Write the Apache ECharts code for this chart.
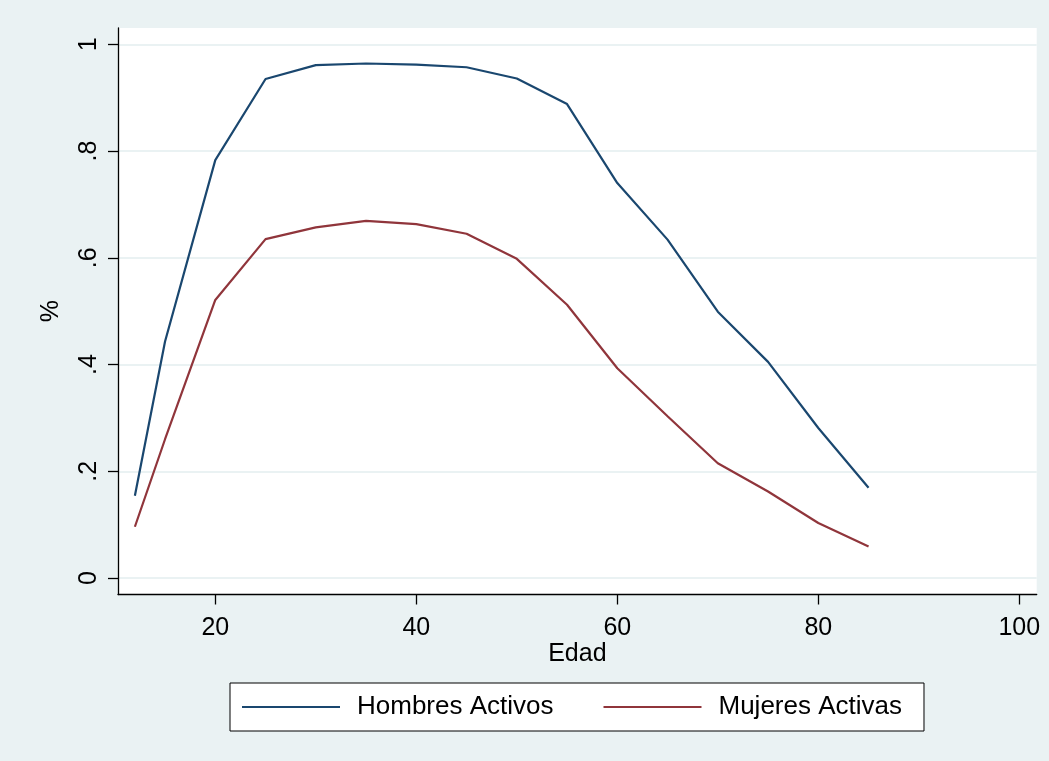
<!DOCTYPE html>
<html>
<head>
<meta charset="utf-8">
<title>Tasa de actividad por edad</title>
<script src="https://cdn.jsdelivr.net/npm/echarts@6/dist/echarts.min.js"></script>
<style>
  html, body { margin: 0; padding: 0; background: #EAF2F3; }
  #chart { width: 1049px; height: 761px; }
</style>
</head>
<body>
<div id="chart"></div>
<script>
// Edad (años) y tasa de actividad por sexo
const edades = [12, 15, 20, 25, 30, 35, 40, 45, 50, 55, 60, 65, 70, 75, 80, 85];
const hombresActivos = [0.154, 0.443, 0.783, 0.935, 0.961, 0.964, 0.962, 0.957, 0.936, 0.888, 0.740, 0.634, 0.499, 0.405, 0.281, 0.169];
const mujeresActivas = [0.096, 0.260, 0.521, 0.635, 0.657, 0.669, 0.663, 0.645, 0.598, 0.512, 0.393, 0.303, 0.215, 0.162, 0.103, 0.059];
const xTicks = [20, 40, 60, 80, 100];
const yTickLabels = { 0: '0', 0.2: '.2', 0.4: '.4', 0.6: '.6', 0.8: '.8', 1: '1' };

const FONT = 'Liberation Sans, Arial, Helvetica, sans-serif';
const BG = '#EAF2F3';
const AXIS = { color: '#000', width: 1.3 };

const pairs = (xs, ys) => xs.map((x, i) => [x, ys[i]]);

const chart = echarts.init(document.getElementById('chart'), null, { renderer: 'canvas' });

chart.setOption({
  animation: false,
  backgroundColor: BG,
  textStyle: { fontFamily: FONT, color: '#000' },
  grid: [
    // plot region frame (white area with axis lines)
    { left: 118, right: 12.3, top: 28, bottom: 166.5, show: true, backgroundColor: '#fff', borderWidth: 0 },
    // data region (padded inside the frame)
    { left: 118, right: 12.3, top: 44.3, bottom: 183 }
  ],
  xAxis: [
    {
      gridIndex: 0, type: 'value', min: 0, max: 1,
      axisLine: { show: true, onZero: false, lineStyle: AXIS },
      axisTick: { show: false }, axisLabel: { show: false }, splitLine: { show: false },
      name: 'Edad', nameLocation: 'middle', nameGap: 47,
      nameTextStyle: { fontFamily: FONT, fontSize: 25, color: '#000' }
    },
    {
      gridIndex: 1, type: 'value', min: 10.32, max: 101.73, offset: 16.5,
      axisLine: { show: false, onZero: false },
      axisTick: { show: true, length: 10, lineStyle: AXIS, customValues: xTicks },
      axisLabel: { show: true, customValues: xTicks, margin: 21, fontFamily: FONT, fontSize: 25, color: '#000' },
      splitLine: { show: false }
    }
  ],
  yAxis: [
    {
      gridIndex: 0, type: 'value', min: 0, max: 1,
      axisLine: { show: true, onZero: false, lineStyle: AXIS },
      axisTick: { show: false }, axisLabel: { show: false }, splitLine: { show: false },
      name: '%', nameLocation: 'middle', nameGap: 54, nameRotate: 90,
      nameTextStyle: { fontFamily: FONT, fontSize: 25, color: '#000' }
    },
    {
      gridIndex: 1, type: 'value', min: 0, max: 1, interval: 0.2,
      axisLine: { show: false, onZero: false },
      axisTick: { show: true, length: 10, lineStyle: AXIS },
      axisLabel: {
        show: true, rotate: 90, margin: 16, fontFamily: FONT, fontSize: 25, color: '#000',
        formatter: v => yTickLabels[Math.round(v * 10) / 10]
      },
      splitLine: { show: true, lineStyle: { color: BG, width: 2 } }
    }
  ],
  legend: {
    left: 230, top: 683,
    orient: 'horizontal',
    backgroundColor: '#fff', borderColor: '#000', borderWidth: 1, borderRadius: 0,
    padding: [11, 22, 11, 12],
    itemWidth: 98, itemHeight: 2, itemGap: 50,
    textStyle: { fontFamily: FONT, fontSize: 26, color: '#000', padding: [0, 0, 0, 12] },
    data: [
      { name: 'Hombres Activos', icon: 'rect' },
      { name: 'Mujeres Activas', icon: 'rect' }
    ]
  },
  series: [
    {
      name: 'Hombres Activos', type: 'line', xAxisIndex: 1, yAxisIndex: 1,
      data: pairs(edades, hombresActivos),
      showSymbol: false, symbol: 'none', clip: false,
      lineStyle: { color: '#1A476F', width: 2.2 }, itemStyle: { color: '#1A476F' }
    },
    {
      name: 'Mujeres Activas', type: 'line', xAxisIndex: 1, yAxisIndex: 1,
      data: pairs(edades, mujeresActivas),
      showSymbol: false, symbol: 'none', clip: false,
      lineStyle: { color: '#90353B', width: 2.2 }, itemStyle: { color: '#90353B' }
    }
  ]
});
</script>
</body>
</html>
